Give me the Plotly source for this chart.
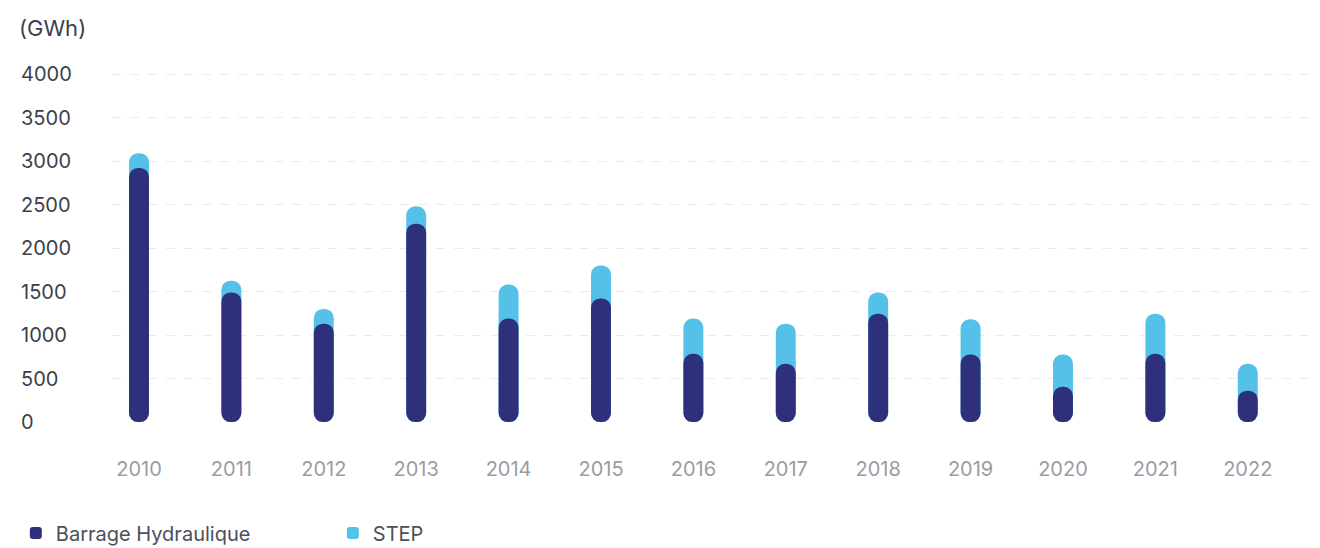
import plotly.graph_objects as go

years = [str(y) for y in range(2010, 2023)]
barrage = [2920, 1490, 1130, 2280, 1190, 1420, 785, 670, 1245, 775, 405, 785, 360]
step = [170, 135, 170, 200, 390, 380, 405, 460, 245, 405, 370, 460, 310]
y_ticks = [0, 500, 1000, 1500, 2000, 2500, 3000, 3500, 4000]

DARK = "#2E317A"
LIGHT = "#56C1E8"
FONT = "Inter, Noto Sans, sans-serif"

W, H = 1320, 548
ML, MR, MT, MB = 112, 2, 70, 115
plot_w = W - ML - MR

total = [b + s for b, s in zip(barrage, step)]
zeros = [0] * len(years)

fig = go.Figure()
fig.add_trace(go.Bar(
    x=years, base=zeros, y=total,
    marker=dict(color=LIGHT, cornerradius=10, line=dict(width=0)),
    width=0.216, name="STEP", legendrank=2,
))
fig.add_trace(go.Bar(
    x=years, base=zeros, y=barrage,
    marker=dict(color=DARK, cornerradius=10, line=dict(width=0)),
    width=0.216, name="Barrage Hydraulique", legendrank=1,
))

ymin, ymax = -126, 4046
grid_vals = [ymin + 6] + [v for v in y_ticks if v > 0]

annotations = []
for v in y_ticks:
    annotations.append(dict(
        x=-(ML - 19) / plot_w, xref="paper", y=v, yref="y",
        text=str(v), showarrow=False, xanchor="left", yanchor="middle",
        font=dict(family=FONT, size=20, color="#3B3F4C"),
    ))

fig.update_layout(
    width=W, height=H,
    margin=dict(l=ML, r=MR, t=MT, b=MB),
    paper_bgcolor="white", plot_bgcolor="white",
    barmode="overlay",
    font=dict(family=FONT),
    title=dict(text="(GWh)", xref="container", x=19 / W, xanchor="left",
               yref="container", y=1 - 28 / H, yanchor="middle",
               font=dict(family=FONT, size=22, color="#3B3F4C")),
    xaxis=dict(type="category", range=[-0.292, 12.76], showgrid=False,
               zeroline=False, showline=False, ticks="",
               tickfont=dict(family=FONT, size=20, color="#9A9CA4"),
               ticklabelstandoff=22),
    yaxis=dict(range=[ymin, ymax], tickvals=grid_vals, showticklabels=False,
               showgrid=True, gridcolor="#EBEBEE", griddash="dash", gridwidth=1.2,
               zeroline=False, showline=False),
    legend=dict(orientation="h", xref="container", yref="container",
                x=0.012, y=1 - 533 / H, xanchor="left", yanchor="middle",
                entrywidth=272, entrywidthmode="pixels",
                font=dict(family=FONT, size=20, color="#4B505C")),
    annotations=annotations,
    showlegend=True,
)

fig.write_html("out.html")
